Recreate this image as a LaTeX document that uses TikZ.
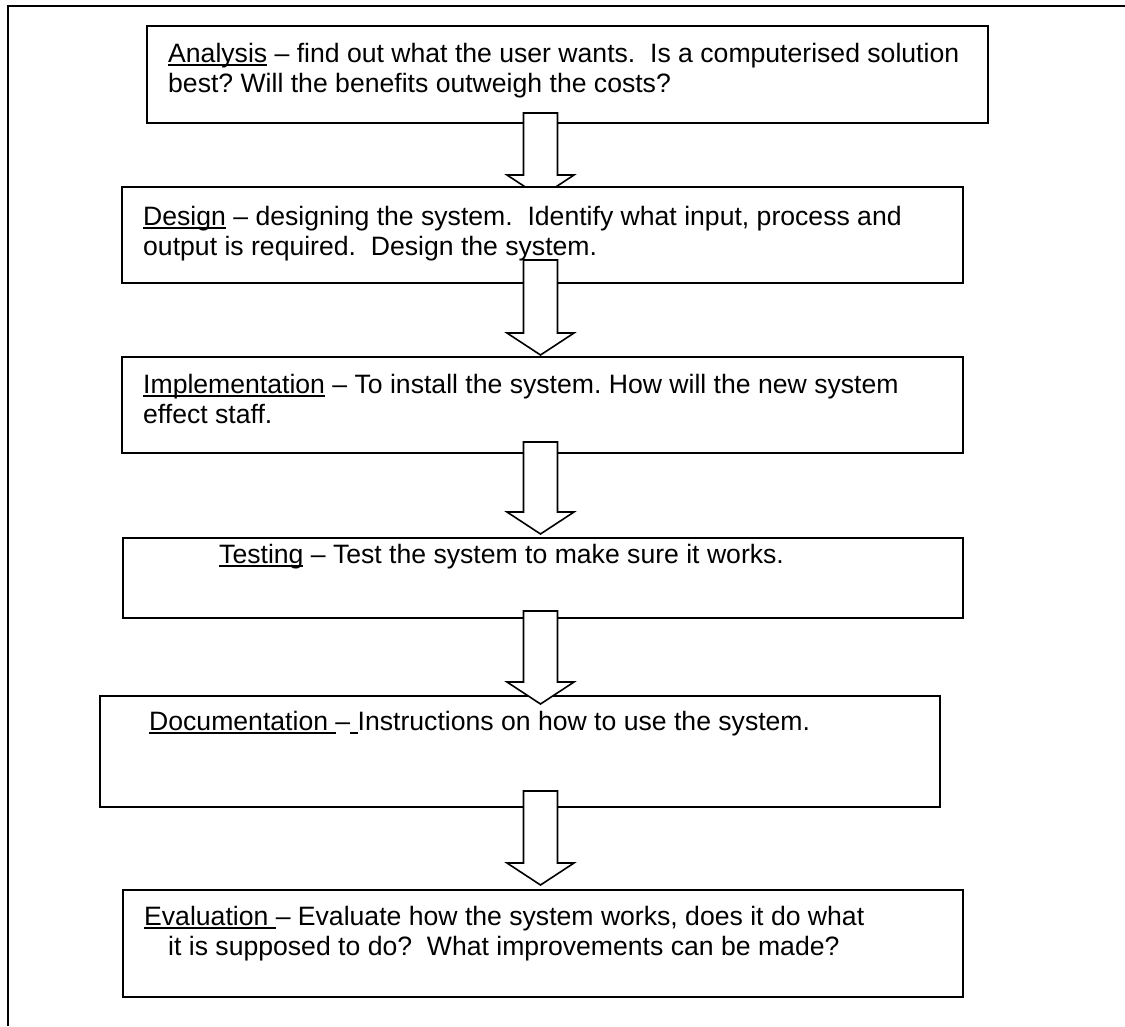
\documentclass[tikz,border=0pt]{standalone}
\usepackage{fontspec}
\setmainfont{Liberation Sans}
\usetikzlibrary{calc}
\frenchspacing

\newcommand{\stagename}[1]{\setbox0=\hbox{#1}\rlap{\rule[-4pt]{\wd0}{1.6pt}}\box0\relax}
\newcommand{\stagearrow}[2]{%
	\draw[blockarrow] ($(#1)+(-17,0)$) -- ($(#2)+(-17,-22)$) -- ($(#2)+(-33.5,-22)$) -- (#2)
		-- ($(#2)+(33.5,-22)$) -- ($(#2)+(17,-22)$) -- ($(#1)+(17,0)$) -- cycle;}

\begin{document}
\begin{tikzpicture}
		[x=1pt, y=-1pt,
		stage/.style={draw, fill=white, line width=1.6pt, inner sep=0pt, outer sep=0pt, anchor=north west},
		stagetext/.style={anchor=base west, align=left, inner sep=0pt, font=\fontsize{26.6}{30.5}\selectfont},
		blockarrow/.style={draw, fill=white, line width=1.6pt, line join=miter},
		outerframe/.style={line width=1.8pt}]
		\useasboundingbox (0,0) rectangle (1125,1026);
		\draw[outerframe] (8,1026) -- (8,6) -- (1125,6);

		% ends of the block arrows
		\coordinate (a1top) at (540.5,113);
		\coordinate (a1tip) at (540.5,197);
		\coordinate (a2top) at (540.5,260);
		\coordinate (a2tip) at (540.5,355);
		\coordinate (a3top) at (540.5,442);
		\coordinate (a3tip) at (540.5,534);
		\coordinate (a4top) at (540.5,611);
		\coordinate (a4tip) at (540.5,704);
		\coordinate (a5top) at (540.5,791);
		\coordinate (a5tip) at (540.5,885);

		\node[stage, minimum width=841pt, minimum height=97pt] (analysis) at (147,26) {};
		\stagearrow{a1top}{a1tip}
		\node[stage, minimum width=841pt, minimum height=96pt] (design) at (122,187) {};
		\node[stage, minimum width=841pt, minimum height=96pt] (implementation) at (122,357) {};
		\stagearrow{a2top}{a2tip}
		\node[stage, minimum width=840pt, minimum height=80pt] (testing) at (123,538) {};
		\stagearrow{a3top}{a3tip}
		\node[stage, minimum width=840pt, minimum height=111pt] (documentation) at (100,696) {};
		\stagearrow{a4top}{a4tip}
		\node[stage, minimum width=840pt, minimum height=107pt] (evaluation) at (123,890) {};
		\stagearrow{a5top}{a5tip}

		% two-line texts are placed by the baseline of their second line
		\node[stagetext] (analysistext) at ($(analysis.north west)+(21,66.5)$)
			{\stagename{Analysis} -- find out what the user wants.\ \ Is a computerised solution\\best? Will the benefits outweigh the costs?};
		\node[stagetext] (designtext) at ($(design.north west)+(21,68.5)$)
			{\stagename{Design} -- designing the system.\ \ Identify what input, process and\\output is required.\ \ Design the system.};
		\node[stagetext] (implementationtext) at ($(implementation.north west)+(21,66.5)$)
			{\stagename{Implementation} -- To install the system. How will the new system\\effect staff.};
		\node[stagetext] (testingtext) at ($(testing.north west)+(96,25)$)
			{\stagename{Testing} -- Test the system to make sure it works.};
		\node[stagetext] (documentationtext) at ($(documentation.north west)+(49,34)$)
			{\stagename{Documentation\ }--\stagename{\ }Instructions on how to use the system.};
		\node[stagetext] (evaluationtext) at ($(evaluation.north west)+(21,65.5)$)
			{\stagename{Evaluation\ }-- Evaluate how the system works, does it do what\\\hspace*{24pt}it is supposed to do?\ \ What improvements can be made?};
	\end{tikzpicture}
\end{document}
